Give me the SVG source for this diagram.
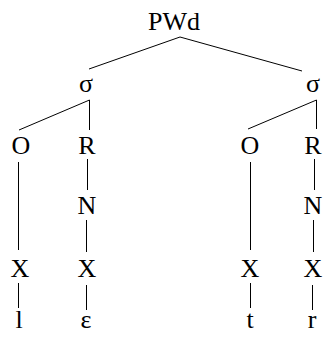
<svg xmlns="http://www.w3.org/2000/svg" width="323" height="340" viewBox="0 0 323 340">
<style>
text{font-family:"Liberation Serif","Times New Roman","DejaVu Serif",serif;font-size:26px;fill:#000;text-anchor:middle}
.e line{stroke:#000;stroke-width:1}
</style>
<rect width="323" height="340" fill="#fff"/>
<g class="e" id="edges">
<line x1="180" y1="37" x2="89" y2="69"/>
<line x1="180" y1="37" x2="302" y2="71"/>
<line x1="89.5" y1="100" x2="19" y2="130"/>
<line x1="89.5" y1="100" x2="89.5" y2="130"/>
<line x1="316.5" y1="100" x2="248" y2="129"/>
<line x1="316.5" y1="100" x2="316.5" y2="129"/>
<line x1="18.5" y1="162" x2="18.5" y2="250"/>
<line x1="87.5" y1="159" x2="87.5" y2="190"/>
<line x1="86.5" y1="220" x2="86.5" y2="252"/>
<line x1="18.5" y1="283" x2="18.5" y2="308"/>
<line x1="86.5" y1="285" x2="86.5" y2="310"/>
<line x1="250.5" y1="162" x2="250.5" y2="250"/>
<line x1="314.5" y1="159" x2="314.5" y2="190"/>
<line x1="313.5" y1="220" x2="313.5" y2="252"/>
<line x1="250.5" y1="283" x2="250.5" y2="308"/>
<line x1="312.5" y1="285" x2="312.5" y2="310"/>
</g>
<g id="pwd"><text x="174" y="30">PWd</text></g>
<g id="sigma1"><text x="86" y="92">σ</text></g>
<g id="sigma2"><text x="313" y="92">σ</text></g>
<g id="o1"><text x="21" y="154">O</text></g>
<g id="r1"><text x="87" y="154">R</text></g>
<g id="o2"><text x="250" y="154">O</text></g>
<g id="r2"><text x="313" y="154">R</text></g>
<g id="n1"><text x="87" y="214">N</text></g>
<g id="n2"><text x="313" y="214">N</text></g>
<g id="x1"><text x="20" y="277">X</text></g>
<g id="x2"><text x="87" y="277">X</text></g>
<g id="x3"><text x="250" y="277">X</text></g>
<g id="x4"><text x="313" y="277">X</text></g>
<g id="s1"><text x="19" y="328">l</text></g>
<g id="s2"><text x="86" y="328">ε</text></g>
<g id="s3"><text x="250" y="328">t</text></g>
<g id="s4"><text x="312" y="328">r</text></g>
</svg>
